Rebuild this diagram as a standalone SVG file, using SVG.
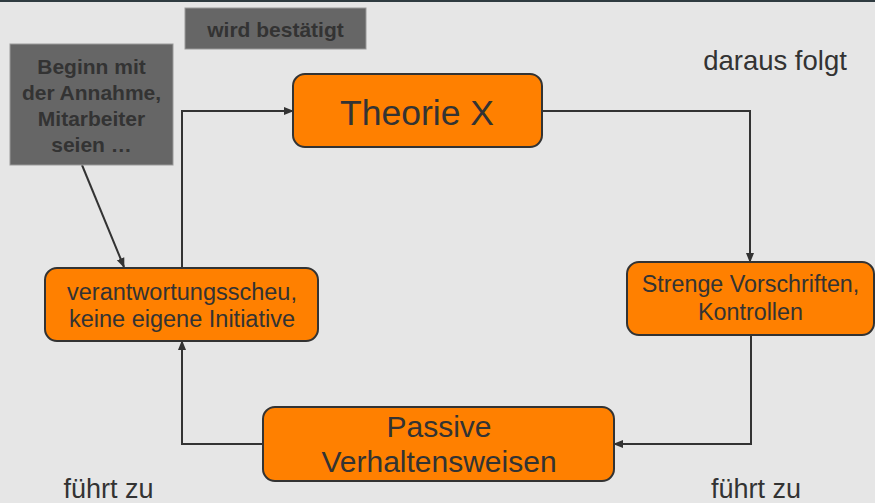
<svg xmlns="http://www.w3.org/2000/svg" width="875" height="503" viewBox="0 0 875 503">
<defs>
<marker id="ah" markerWidth="10" markerHeight="10" refX="9" refY="5" orient="auto" markerUnits="userSpaceOnUse">
<path d="M0,1 L10,5 L0,9 z" fill="#333"/>
</marker>
<style>
.node{fill:#ff8000;stroke:#333;stroke-width:2}
.gbox{fill:#666;stroke:#999;stroke-width:1}
.t{font-family:"Liberation Sans",Arial,sans-serif;fill:#333;text-anchor:middle}
.b{font-weight:bold;font-size:21px}
.con{fill:none;stroke:#333;stroke-width:2;marker-end:url(#ah)}
</style>
</defs>
<rect x="0" y="0" width="875" height="503" fill="#e6e6e6"/>
<line x1="0" y1="1" x2="875" y2="1" stroke="#2f3b40" stroke-width="2"/>
<g id="connectors">
<path class="con" d="M182,268 V111 H293"/>
<path class="con" d="M542,111 H750 V262"/>
<path class="con" d="M751,335 V444 H614"/>
<path class="con" d="M263,444 H182 V341"/>
<path class="con" d="M82,165 L124,267"/>
</g>
<g id="wird">
<rect class="gbox" x="185" y="8" width="181" height="41"/>
<text class="t b" x="275.5" y="37">wird bestätigt</text>
</g>
<g id="beginn">
<rect class="gbox" x="10" y="44" width="163" height="121"/>
<text class="t b" x="91.5" y="74">Beginn mit</text>
<text class="t b" x="91.5" y="100">der Annahme,</text>
<text class="t b" x="91.5" y="125.5">Mitarbeiter</text>
<text class="t b" x="91.5" y="151.5">seien …</text>
</g>
<g id="theorie">
<rect class="node" x="293" y="74" width="249" height="73" rx="12"/>
<text class="t" x="417" y="125" font-size="35.5">Theorie X</text>
</g>
<g id="strenge">
<rect class="node" x="627" y="262" width="247" height="73" rx="12"/>
<text class="t" x="750.5" y="292" font-size="23.3">Strenge Vorschriften,</text>
<text class="t" x="750.5" y="320" font-size="23.3">Kontrollen</text>
</g>
<g id="passive">
<rect class="node" x="263" y="407" width="351" height="74" rx="12"/>
<text class="t" x="439" y="437" font-size="30">Passive</text>
<text class="t" x="439" y="472" font-size="30">Verhaltensweisen</text>
</g>
<g id="verantwortung">
<rect class="node" x="45" y="268" width="273" height="73" rx="12"/>
<text class="t" x="182" y="300" font-size="23.5">verantwortungsscheu,</text>
<text class="t" x="182" y="327" font-size="23.5">keine eigene Initiative</text>
</g>
<text class="t" x="775" y="70" font-size="27.5">daraus folgt</text>
<text class="t" x="108.5" y="498" font-size="27">führt zu</text>
<text class="t" x="756" y="498" font-size="27">führt zu</text>
</svg>
